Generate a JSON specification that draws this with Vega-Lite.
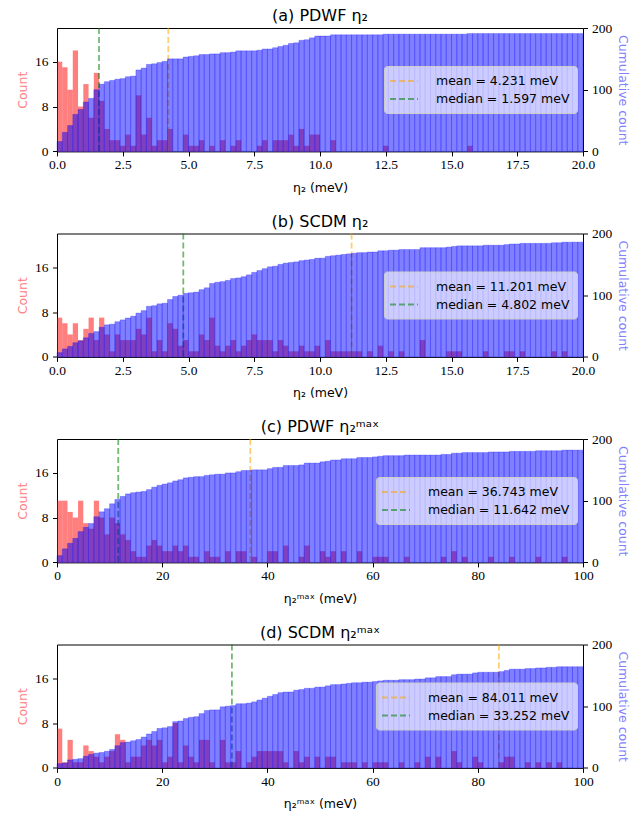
{
"$schema": "https://vega.github.io/schema/vega-lite/v6.json",
"autosize": {"type": "pad"},
"padding": {"left": 16, "top": 7, "right": 0, "bottom": 0},
"background": "white",
"bounds": "flush",
"spacing": 81.5,
"datasets": {
"a": [
{"s":0,"e":0.2,"n":16,"c":16},{"s":0.2,"e":0.4,"n":15,"c":31},{"s":0.4,"e":0.6,"n":11,"c":42},{"s":0.6,"e":0.8,"n":18,"c":60},{"s":0.8,"e":1,"n":8,"c":68},
{"s":1,"e":1.2,"n":12,"c":80},{"s":1.2,"e":1.4,"n":6,"c":86},{"s":1.4,"e":1.6,"n":14,"c":100},{"s":1.6,"e":1.8,"n":9,"c":109},{"s":1.8,"e":2,"n":4,"c":113},
{"s":2,"e":2.2,"n":2,"c":115},{"s":2.2,"e":2.4,"n":2,"c":117},{"s":2.4,"e":2.6,"n":1,"c":118},{"s":2.6,"e":2.8,"n":3,"c":121},{"s":2.8,"e":3,"n":1,"c":122},
{"s":3,"e":3.2,"n":10,"c":132},{"s":3.2,"e":3.4,"n":3,"c":135},{"s":3.4,"e":3.6,"n":6,"c":141},{"s":3.6,"e":3.8,"n":1,"c":142},{"s":3.8,"e":4,"n":2,"c":144},
{"s":4,"e":4.2,"n":2,"c":146},{"s":4.2,"e":4.4,"n":4,"c":150},{"s":4.4,"e":4.6,"n":0,"c":150},{"s":4.6,"e":4.8,"n":0,"c":150},{"s":4.8,"e":5,"n":3,"c":153},
{"s":5,"e":5.2,"n":1,"c":154},{"s":5.2,"e":5.4,"n":1,"c":155},{"s":5.4,"e":5.6,"n":2,"c":157},{"s":5.6,"e":5.8,"n":0,"c":157},{"s":5.8,"e":6,"n":1,"c":158},
{"s":6,"e":6.2,"n":0,"c":158},{"s":6.2,"e":6.4,"n":2,"c":160},{"s":6.4,"e":6.6,"n":0,"c":160},{"s":6.6,"e":6.8,"n":1,"c":161},{"s":6.8,"e":7,"n":2,"c":163},
{"s":7,"e":7.2,"n":0,"c":163},{"s":7.2,"e":7.4,"n":0,"c":163},{"s":7.4,"e":7.6,"n":0,"c":163},{"s":7.6,"e":7.8,"n":1,"c":164},{"s":7.8,"e":8,"n":2,"c":166},
{"s":8,"e":8.2,"n":0,"c":166},{"s":8.2,"e":8.4,"n":2,"c":168},{"s":8.4,"e":8.6,"n":2,"c":170},{"s":8.6,"e":8.8,"n":2,"c":172},{"s":8.8,"e":9,"n":3,"c":175},
{"s":9,"e":9.2,"n":1,"c":176},{"s":9.2,"e":9.4,"n":4,"c":180},{"s":9.4,"e":9.6,"n":1,"c":181},{"s":9.6,"e":9.8,"n":3,"c":184},{"s":9.8,"e":10,"n":3,"c":187},
{"s":10,"e":10.2,"n":0,"c":187},{"s":10.2,"e":10.4,"n":0,"c":187},{"s":10.4,"e":10.6,"n":2,"c":189},{"s":10.6,"e":10.8,"n":0,"c":189},{"s":10.8,"e":11,"n":0,"c":189},
{"s":11,"e":11.2,"n":0,"c":189},{"s":11.2,"e":11.4,"n":0,"c":189},{"s":11.4,"e":11.6,"n":0,"c":189},{"s":11.6,"e":11.8,"n":0,"c":189},{"s":11.8,"e":12,"n":0,"c":189},
{"s":12,"e":12.2,"n":0,"c":189},{"s":12.2,"e":12.4,"n":0,"c":189},{"s":12.4,"e":12.6,"n":1,"c":190},{"s":12.6,"e":12.8,"n":0,"c":190},{"s":12.8,"e":13,"n":0,"c":190},
{"s":13,"e":13.2,"n":0,"c":190},{"s":13.2,"e":13.4,"n":0,"c":190},{"s":13.4,"e":13.6,"n":0,"c":190},{"s":13.6,"e":13.8,"n":0,"c":190},{"s":13.8,"e":14,"n":0,"c":190},
{"s":14,"e":14.2,"n":0,"c":190},{"s":14.2,"e":14.4,"n":0,"c":190},{"s":14.4,"e":14.6,"n":0,"c":190},{"s":14.6,"e":14.8,"n":0,"c":190},{"s":14.8,"e":15,"n":0,"c":190},
{"s":15,"e":15.2,"n":0,"c":190},{"s":15.2,"e":15.4,"n":0,"c":190},{"s":15.4,"e":15.6,"n":0,"c":190},{"s":15.6,"e":15.8,"n":1,"c":191},{"s":15.8,"e":16,"n":0,"c":191},
{"s":16,"e":16.2,"n":0,"c":191},{"s":16.2,"e":16.4,"n":0,"c":191},{"s":16.4,"e":16.6,"n":0,"c":191},{"s":16.6,"e":16.8,"n":0,"c":191},{"s":16.8,"e":17,"n":0,"c":191},
{"s":17,"e":17.2,"n":0,"c":191},{"s":17.2,"e":17.4,"n":0,"c":191},{"s":17.4,"e":17.6,"n":0,"c":191},{"s":17.6,"e":17.8,"n":0,"c":191},{"s":17.8,"e":18,"n":0,"c":191},
{"s":18,"e":18.2,"n":0,"c":191},{"s":18.2,"e":18.4,"n":0,"c":191},{"s":18.4,"e":18.6,"n":0,"c":191},{"s":18.6,"e":18.8,"n":0,"c":191},{"s":18.8,"e":19,"n":0,"c":191},
{"s":19,"e":19.2,"n":0,"c":191},{"s":19.2,"e":19.4,"n":0,"c":191},{"s":19.4,"e":19.6,"n":0,"c":191},{"s":19.6,"e":19.8,"n":0,"c":191},{"s":19.8,"e":20,"n":0,"c":191}
],
"b": [
{"s":0,"e":0.2,"n":7,"c":7},{"s":0.2,"e":0.4,"n":6,"c":13},{"s":0.4,"e":0.6,"n":4,"c":17},{"s":0.6,"e":0.8,"n":6,"c":23},{"s":0.8,"e":1,"n":3,"c":26},
{"s":1,"e":1.2,"n":5,"c":31},{"s":1.2,"e":1.4,"n":7,"c":38},{"s":1.4,"e":1.6,"n":3,"c":41},{"s":1.6,"e":1.8,"n":7,"c":48},{"s":1.8,"e":2,"n":4,"c":52},
{"s":2,"e":2.2,"n":1,"c":53},{"s":2.2,"e":2.4,"n":4,"c":57},{"s":2.4,"e":2.6,"n":3,"c":60},{"s":2.6,"e":2.8,"n":3,"c":63},{"s":2.8,"e":3,"n":3,"c":66},
{"s":3,"e":3.2,"n":5,"c":71},{"s":3.2,"e":3.4,"n":4,"c":75},{"s":3.4,"e":3.6,"n":7,"c":82},{"s":3.6,"e":3.8,"n":1,"c":83},{"s":3.8,"e":4,"n":3,"c":86},
{"s":4,"e":4.2,"n":1,"c":87},{"s":4.2,"e":4.4,"n":6,"c":93},{"s":4.4,"e":4.6,"n":5,"c":98},{"s":4.6,"e":4.8,"n":2,"c":100},{"s":4.8,"e":5,"n":3,"c":103},
{"s":5,"e":5.2,"n":1,"c":104},{"s":5.2,"e":5.4,"n":1,"c":105},{"s":5.4,"e":5.6,"n":4,"c":109},{"s":5.6,"e":5.8,"n":3,"c":112},{"s":5.8,"e":6,"n":7,"c":119},
{"s":6,"e":6.2,"n":2,"c":121},{"s":6.2,"e":6.4,"n":1,"c":122},{"s":6.4,"e":6.6,"n":2,"c":124},{"s":6.6,"e":6.8,"n":3,"c":127},{"s":6.8,"e":7,"n":1,"c":128},
{"s":7,"e":7.2,"n":2,"c":130},{"s":7.2,"e":7.4,"n":3,"c":133},{"s":7.4,"e":7.6,"n":4,"c":137},{"s":7.6,"e":7.8,"n":3,"c":140},{"s":7.8,"e":8,"n":3,"c":143},
{"s":8,"e":8.2,"n":3,"c":146},{"s":8.2,"e":8.4,"n":1,"c":147},{"s":8.4,"e":8.6,"n":3,"c":150},{"s":8.6,"e":8.8,"n":2,"c":152},{"s":8.8,"e":9,"n":1,"c":153},
{"s":9,"e":9.2,"n":1,"c":154},{"s":9.2,"e":9.4,"n":2,"c":156},{"s":9.4,"e":9.6,"n":1,"c":157},{"s":9.6,"e":9.8,"n":1,"c":158},{"s":9.8,"e":10,"n":2,"c":160},
{"s":10,"e":10.2,"n":0,"c":160},{"s":10.2,"e":10.4,"n":3,"c":163},{"s":10.4,"e":10.6,"n":1,"c":164},{"s":10.6,"e":10.8,"n":1,"c":165},{"s":10.8,"e":11,"n":1,"c":166},
{"s":11,"e":11.2,"n":1,"c":167},{"s":11.2,"e":11.4,"n":1,"c":168},{"s":11.4,"e":11.6,"n":1,"c":169},{"s":11.6,"e":11.8,"n":0,"c":169},{"s":11.8,"e":12,"n":1,"c":170},
{"s":12,"e":12.2,"n":0,"c":170},{"s":12.2,"e":12.4,"n":2,"c":172},{"s":12.4,"e":12.6,"n":0,"c":172},{"s":12.6,"e":12.8,"n":1,"c":173},{"s":12.8,"e":13,"n":0,"c":173},
{"s":13,"e":13.2,"n":1,"c":174},{"s":13.2,"e":13.4,"n":0,"c":174},{"s":13.4,"e":13.6,"n":0,"c":174},{"s":13.6,"e":13.8,"n":0,"c":174},{"s":13.8,"e":14,"n":3,"c":177},
{"s":14,"e":14.2,"n":0,"c":177},{"s":14.2,"e":14.4,"n":0,"c":177},{"s":14.4,"e":14.6,"n":0,"c":177},{"s":14.6,"e":14.8,"n":0,"c":177},{"s":14.8,"e":15,"n":1,"c":178},
{"s":15,"e":15.2,"n":1,"c":179},{"s":15.2,"e":15.4,"n":1,"c":180},{"s":15.4,"e":15.6,"n":0,"c":180},{"s":15.6,"e":15.8,"n":0,"c":180},{"s":15.8,"e":16,"n":0,"c":180},
{"s":16,"e":16.2,"n":0,"c":180},{"s":16.2,"e":16.4,"n":1,"c":181},{"s":16.4,"e":16.6,"n":0,"c":181},{"s":16.6,"e":16.8,"n":0,"c":181},{"s":16.8,"e":17,"n":0,"c":181},
{"s":17,"e":17.2,"n":1,"c":182},{"s":17.2,"e":17.4,"n":1,"c":183},{"s":17.4,"e":17.6,"n":0,"c":183},{"s":17.6,"e":17.8,"n":1,"c":184},{"s":17.8,"e":18,"n":0,"c":184},
{"s":18,"e":18.2,"n":0,"c":184},{"s":18.2,"e":18.4,"n":0,"c":184},{"s":18.4,"e":18.6,"n":0,"c":184},{"s":18.6,"e":18.8,"n":0,"c":184},{"s":18.8,"e":19,"n":1,"c":185},
{"s":19,"e":19.2,"n":0,"c":185},{"s":19.2,"e":19.4,"n":1,"c":186},{"s":19.4,"e":19.6,"n":0,"c":186},{"s":19.6,"e":19.8,"n":0,"c":186},{"s":19.8,"e":20,"n":0,"c":186}
],
"c": [
{"s":0,"e":1,"n":11,"c":11},{"s":1,"e":2,"n":11,"c":22},{"s":2,"e":3,"n":9,"c":31},{"s":3,"e":4,"n":8,"c":39},{"s":4,"e":5,"n":11,"c":50},
{"s":5,"e":6,"n":7,"c":57},{"s":6,"e":7,"n":6,"c":63},{"s":7,"e":8,"n":11,"c":74},{"s":8,"e":9,"n":8,"c":82},{"s":9,"e":10,"n":5,"c":87},
{"s":10,"e":11,"n":8,"c":95},{"s":11,"e":12,"n":7,"c":102},{"s":12,"e":13,"n":5,"c":107},{"s":13,"e":14,"n":4,"c":111},{"s":14,"e":15,"n":2,"c":113},
{"s":15,"e":16,"n":1,"c":114},{"s":16,"e":17,"n":1,"c":115},{"s":17,"e":18,"n":3,"c":118},{"s":18,"e":19,"n":4,"c":122},{"s":19,"e":20,"n":3,"c":125},
{"s":20,"e":21,"n":2,"c":127},{"s":21,"e":22,"n":2,"c":129},{"s":22,"e":23,"n":3,"c":132},{"s":23,"e":24,"n":2,"c":134},{"s":24,"e":25,"n":3,"c":137},
{"s":25,"e":26,"n":1,"c":138},{"s":26,"e":27,"n":1,"c":139},{"s":27,"e":28,"n":0,"c":139},{"s":28,"e":29,"n":2,"c":141},{"s":29,"e":30,"n":1,"c":142},
{"s":30,"e":31,"n":1,"c":143},{"s":31,"e":32,"n":0,"c":143},{"s":32,"e":33,"n":2,"c":145},{"s":33,"e":34,"n":0,"c":145},{"s":34,"e":35,"n":2,"c":147},
{"s":35,"e":36,"n":2,"c":149},{"s":36,"e":37,"n":0,"c":149},{"s":37,"e":38,"n":1,"c":150},{"s":38,"e":39,"n":0,"c":150},{"s":39,"e":40,"n":0,"c":150},
{"s":40,"e":41,"n":2,"c":152},{"s":41,"e":42,"n":2,"c":154},{"s":42,"e":43,"n":0,"c":154},{"s":43,"e":44,"n":3,"c":157},{"s":44,"e":45,"n":0,"c":157},
{"s":45,"e":46,"n":0,"c":157},{"s":46,"e":47,"n":1,"c":158},{"s":47,"e":48,"n":3,"c":161},{"s":48,"e":49,"n":0,"c":161},{"s":49,"e":50,"n":0,"c":161},
{"s":50,"e":51,"n":2,"c":163},{"s":51,"e":52,"n":1,"c":164},{"s":52,"e":53,"n":2,"c":166},{"s":53,"e":54,"n":0,"c":166},{"s":54,"e":55,"n":2,"c":168},
{"s":55,"e":56,"n":0,"c":168},{"s":56,"e":57,"n":0,"c":168},{"s":57,"e":58,"n":2,"c":170},{"s":58,"e":59,"n":0,"c":170},{"s":59,"e":60,"n":0,"c":170},
{"s":60,"e":61,"n":1,"c":171},{"s":61,"e":62,"n":1,"c":172},{"s":62,"e":63,"n":1,"c":173},{"s":63,"e":64,"n":0,"c":173},{"s":64,"e":65,"n":0,"c":173},
{"s":65,"e":66,"n":0,"c":173},{"s":66,"e":67,"n":1,"c":174},{"s":67,"e":68,"n":0,"c":174},{"s":68,"e":69,"n":0,"c":174},{"s":69,"e":70,"n":0,"c":174},
{"s":70,"e":71,"n":0,"c":174},{"s":71,"e":72,"n":0,"c":174},{"s":72,"e":73,"n":0,"c":174},{"s":73,"e":74,"n":1,"c":175},{"s":74,"e":75,"n":0,"c":175},
{"s":75,"e":76,"n":2,"c":177},{"s":76,"e":77,"n":0,"c":177},{"s":77,"e":78,"n":1,"c":178},{"s":78,"e":79,"n":0,"c":178},{"s":79,"e":80,"n":0,"c":178},
{"s":80,"e":81,"n":0,"c":178},{"s":81,"e":82,"n":0,"c":178},{"s":82,"e":83,"n":1,"c":179},{"s":83,"e":84,"n":0,"c":179},{"s":84,"e":85,"n":0,"c":179},
{"s":85,"e":86,"n":0,"c":179},{"s":86,"e":87,"n":1,"c":180},{"s":87,"e":88,"n":0,"c":180},{"s":88,"e":89,"n":0,"c":180},{"s":89,"e":90,"n":0,"c":180},
{"s":90,"e":91,"n":0,"c":180},{"s":91,"e":92,"n":1,"c":181},{"s":92,"e":93,"n":0,"c":181},{"s":93,"e":94,"n":0,"c":181},{"s":94,"e":95,"n":0,"c":181},
{"s":95,"e":96,"n":0,"c":181},{"s":96,"e":97,"n":1,"c":182},{"s":97,"e":98,"n":0,"c":182},{"s":98,"e":99,"n":0,"c":182},{"s":99,"e":100,"n":0,"c":182}
],
"d": [
{"s":0,"e":1,"n":7,"c":7},{"s":1,"e":2,"n":1,"c":8},{"s":2,"e":3,"n":5,"c":13},{"s":3,"e":4,"n":1,"c":14},{"s":4,"e":5,"n":1,"c":15},
{"s":5,"e":6,"n":4,"c":19},{"s":6,"e":7,"n":3,"c":22},{"s":7,"e":8,"n":2,"c":24},{"s":8,"e":9,"n":1,"c":25},{"s":9,"e":10,"n":2,"c":27},
{"s":10,"e":11,"n":3,"c":30},{"s":11,"e":12,"n":6,"c":36},{"s":12,"e":13,"n":5,"c":41},{"s":13,"e":14,"n":1,"c":42},{"s":14,"e":15,"n":2,"c":44},
{"s":15,"e":16,"n":2,"c":46},{"s":16,"e":17,"n":4,"c":50},{"s":17,"e":18,"n":5,"c":55},{"s":18,"e":19,"n":4,"c":59},{"s":19,"e":20,"n":5,"c":64},
{"s":20,"e":21,"n":1,"c":65},{"s":21,"e":22,"n":2,"c":67},{"s":22,"e":23,"n":8,"c":75},{"s":23,"e":24,"n":1,"c":76},{"s":24,"e":25,"n":4,"c":80},
{"s":25,"e":26,"n":2,"c":82},{"s":26,"e":27,"n":1,"c":83},{"s":27,"e":28,"n":5,"c":88},{"s":28,"e":29,"n":5,"c":93},{"s":29,"e":30,"n":1,"c":94},
{"s":30,"e":31,"n":0,"c":94},{"s":31,"e":32,"n":5,"c":99},{"s":32,"e":33,"n":1,"c":100},{"s":33,"e":34,"n":1,"c":101},{"s":34,"e":35,"n":3,"c":104},
{"s":35,"e":36,"n":0,"c":104},{"s":36,"e":37,"n":1,"c":105},{"s":37,"e":38,"n":2,"c":107},{"s":38,"e":39,"n":3,"c":110},{"s":39,"e":40,"n":3,"c":113},
{"s":40,"e":41,"n":3,"c":116},{"s":41,"e":42,"n":3,"c":119},{"s":42,"e":43,"n":3,"c":122},{"s":43,"e":44,"n":1,"c":123},{"s":44,"e":45,"n":0,"c":123},
{"s":45,"e":46,"n":3,"c":126},{"s":46,"e":47,"n":1,"c":127},{"s":47,"e":48,"n":2,"c":129},{"s":48,"e":49,"n":0,"c":129},{"s":49,"e":50,"n":2,"c":131},
{"s":50,"e":51,"n":0,"c":131},{"s":51,"e":52,"n":2,"c":133},{"s":52,"e":53,"n":2,"c":135},{"s":53,"e":54,"n":0,"c":135},{"s":54,"e":55,"n":1,"c":136},
{"s":55,"e":56,"n":1,"c":137},{"s":56,"e":57,"n":1,"c":138},{"s":57,"e":58,"n":0,"c":138},{"s":58,"e":59,"n":1,"c":139},{"s":59,"e":60,"n":0,"c":139},
{"s":60,"e":61,"n":1,"c":140},{"s":61,"e":62,"n":1,"c":141},{"s":62,"e":63,"n":1,"c":142},{"s":63,"e":64,"n":0,"c":142},{"s":64,"e":65,"n":0,"c":142},
{"s":65,"e":66,"n":1,"c":143},{"s":66,"e":67,"n":0,"c":143},{"s":67,"e":68,"n":0,"c":143},{"s":68,"e":69,"n":1,"c":144},{"s":69,"e":70,"n":0,"c":144},
{"s":70,"e":71,"n":2,"c":146},{"s":71,"e":72,"n":0,"c":146},{"s":72,"e":73,"n":2,"c":148},{"s":73,"e":74,"n":0,"c":148},{"s":74,"e":75,"n":0,"c":148},
{"s":75,"e":76,"n":3,"c":151},{"s":76,"e":77,"n":1,"c":152},{"s":77,"e":78,"n":0,"c":152},{"s":78,"e":79,"n":0,"c":152},{"s":79,"e":80,"n":2,"c":154},
{"s":80,"e":81,"n":1,"c":155},{"s":81,"e":82,"n":0,"c":155},{"s":82,"e":83,"n":0,"c":155},{"s":83,"e":84,"n":0,"c":155},{"s":84,"e":85,"n":1,"c":156},
{"s":85,"e":86,"n":2,"c":158},{"s":86,"e":87,"n":2,"c":160},{"s":87,"e":88,"n":0,"c":160},{"s":88,"e":89,"n":0,"c":160},{"s":89,"e":90,"n":1,"c":161},
{"s":90,"e":91,"n":0,"c":161},{"s":91,"e":92,"n":1,"c":162},{"s":92,"e":93,"n":0,"c":162},{"s":93,"e":94,"n":1,"c":163},{"s":94,"e":95,"n":0,"c":163},
{"s":95,"e":96,"n":1,"c":164},{"s":96,"e":97,"n":0,"c":164},{"s":97,"e":98,"n":0,"c":164},{"s":98,"e":99,"n":0,"c":164},{"s":99,"e":100,"n":0,"c":164}
]
},
"vconcat": [
{
"width": 526, "height": 123.4,
"title": {"text": "(a) PDWF η₂"},
"data": {"name": "a"},
"layer": [
{"mark": {"type": "bar", "fill": "#ff0000", "fillOpacity": 0.5},
"encoding": {
"x": {"field": "s", "type": "quantitative", "title": "η₂ (meV)", "scale": {"domain": [0, 20], "nice": false, "zero": false}, "axis": {"values": [0, 2.5, 5, 7.5, 10, 12.5, 15, 17.5, 20], "format": ".1f"}},
"x2": {"field": "e"},
"y": {"field": "n", "type": "quantitative", "stack": null, "scale": {"domain": [0, 22], "nice": false}, "axis": {"orient": "left", "values": [0, 8, 16], "title": "Count", "titleColor": "#ff8080"}},
"y2": {"datum": 0}
}},
{"data": {"values": [{"v": 4.231, "k": "mean = 4.231 meV"}, {"v": 1.597, "k": "median = 1.597 meV"}]},
"mark": {"type": "rule", "strokeDash": [6, 3], "strokeWidth": 1.8, "opacity": 0.55},
"encoding": {
"x": {"field": "v", "type": "quantitative", "title": "η₂ (meV)"},
"color": {"field": "k", "type": "nominal", "scale": {"domain": ["mean = 4.231 meV", "median = 1.597 meV"], "range": ["#ffa500", "#008000"]}, "legend": {"title": null, "legendX": 327}}
}},
{"mark": {"type": "bar", "fill": "#0000ff", "fillOpacity": 0.5, "stroke": "#0000ff", "strokeWidth": 0.7, "strokeOpacity": 0.35},
"encoding": {
"x": {"field": "s", "type": "quantitative", "title": "η₂ (meV)"},
"x2": {"field": "e"},
"y": {"field": "c", "type": "quantitative", "stack": null, "scale": {"domain": [0, 200], "nice": false}, "axis": {"orient": "right", "values": [0, 100, 200], "title": "Cumulative count", "titleColor": "#8080ff"}},
"y2": {"datum": 0}
}}
],
"resolve": {"scale": {"y": "independent"}}
},
{
"width": 526, "height": 123.4,
"title": {"text": "(b) SCDM η₂"},
"data": {"name": "b"},
"layer": [
{"mark": {"type": "bar", "fill": "#ff0000", "fillOpacity": 0.5},
"encoding": {
"x": {"field": "s", "type": "quantitative", "title": "η₂ (meV)", "scale": {"domain": [0, 20], "nice": false, "zero": false}, "axis": {"values": [0, 2.5, 5, 7.5, 10, 12.5, 15, 17.5, 20], "format": ".1f"}},
"x2": {"field": "e"},
"y": {"field": "n", "type": "quantitative", "stack": null, "scale": {"domain": [0, 22], "nice": false}, "axis": {"orient": "left", "values": [0, 8, 16], "title": "Count", "titleColor": "#ff8080"}},
"y2": {"datum": 0}
}},
{"data": {"values": [{"v": 11.201, "k": "mean = 11.201 meV"}, {"v": 4.802, "k": "median = 4.802 meV"}]},
"mark": {"type": "rule", "strokeDash": [6, 3], "strokeWidth": 1.8, "opacity": 0.55},
"encoding": {
"x": {"field": "v", "type": "quantitative", "title": "η₂ (meV)"},
"color": {"field": "k", "type": "nominal", "scale": {"domain": ["mean = 11.201 meV", "median = 4.802 meV"], "range": ["#ffa500", "#008000"]}, "legend": {"title": null, "legendX": 327}}
}},
{"mark": {"type": "bar", "fill": "#0000ff", "fillOpacity": 0.5, "stroke": "#0000ff", "strokeWidth": 0.7, "strokeOpacity": 0.35},
"encoding": {
"x": {"field": "s", "type": "quantitative", "title": "η₂ (meV)"},
"x2": {"field": "e"},
"y": {"field": "c", "type": "quantitative", "stack": null, "scale": {"domain": [0, 200], "nice": false}, "axis": {"orient": "right", "values": [0, 100, 200], "title": "Cumulative count", "titleColor": "#8080ff"}},
"y2": {"datum": 0}
}}
],
"resolve": {"scale": {"y": "independent"}}
},
{
"width": 526, "height": 123.4,
"title": {"text": "(c) PDWF η₂ᵐᵃˣ"},
"data": {"name": "c"},
"layer": [
{"mark": {"type": "bar", "fill": "#ff0000", "fillOpacity": 0.5},
"encoding": {
"x": {"field": "s", "type": "quantitative", "title": "η₂ᵐᵃˣ (meV)", "scale": {"domain": [0, 100], "nice": false, "zero": false}, "axis": {"values": [0, 20, 40, 60, 80, 100], "format": "d"}},
"x2": {"field": "e"},
"y": {"field": "n", "type": "quantitative", "stack": null, "scale": {"domain": [0, 22], "nice": false}, "axis": {"orient": "left", "values": [0, 8, 16], "title": "Count", "titleColor": "#ff8080"}},
"y2": {"datum": 0}
}},
{"data": {"values": [{"v": 36.743, "k": "mean = 36.743 meV"}, {"v": 11.642, "k": "median = 11.642 meV"}]},
"mark": {"type": "rule", "strokeDash": [6, 3], "strokeWidth": 1.8, "opacity": 0.55},
"encoding": {
"x": {"field": "v", "type": "quantitative", "title": "η₂ᵐᵃˣ (meV)"},
"color": {"field": "k", "type": "nominal", "scale": {"domain": ["mean = 36.743 meV", "median = 11.642 meV"], "range": ["#ffa500", "#008000"]}, "legend": {"title": null, "legendX": 319}}
}},
{"mark": {"type": "bar", "fill": "#0000ff", "fillOpacity": 0.5, "stroke": "#0000ff", "strokeWidth": 0.7, "strokeOpacity": 0.35},
"encoding": {
"x": {"field": "s", "type": "quantitative", "title": "η₂ᵐᵃˣ (meV)"},
"x2": {"field": "e"},
"y": {"field": "c", "type": "quantitative", "stack": null, "scale": {"domain": [0, 200], "nice": false}, "axis": {"orient": "right", "values": [0, 100, 200], "title": "Cumulative count", "titleColor": "#8080ff"}},
"y2": {"datum": 0}
}}
],
"resolve": {"scale": {"y": "independent"}}
},
{
"width": 526, "height": 123.4,
"title": {"text": "(d) SCDM η₂ᵐᵃˣ"},
"data": {"name": "d"},
"layer": [
{"mark": {"type": "bar", "fill": "#ff0000", "fillOpacity": 0.5},
"encoding": {
"x": {"field": "s", "type": "quantitative", "title": "η₂ᵐᵃˣ (meV)", "scale": {"domain": [0, 100], "nice": false, "zero": false}, "axis": {"values": [0, 20, 40, 60, 80, 100], "format": "d"}},
"x2": {"field": "e"},
"y": {"field": "n", "type": "quantitative", "stack": null, "scale": {"domain": [0, 22], "nice": false}, "axis": {"orient": "left", "values": [0, 8, 16], "title": "Count", "titleColor": "#ff8080"}},
"y2": {"datum": 0}
}},
{"data": {"values": [{"v": 84.011, "k": "mean = 84.011 meV"}, {"v": 33.252, "k": "median = 33.252 meV"}]},
"mark": {"type": "rule", "strokeDash": [6, 3], "strokeWidth": 1.8, "opacity": 0.55},
"encoding": {
"x": {"field": "v", "type": "quantitative", "title": "η₂ᵐᵃˣ (meV)"},
"color": {"field": "k", "type": "nominal", "scale": {"domain": ["mean = 84.011 meV", "median = 33.252 meV"], "range": ["#ffa500", "#008000"]}, "legend": {"title": null, "legendX": 319}}
}},
{"mark": {"type": "bar", "fill": "#0000ff", "fillOpacity": 0.5, "stroke": "#0000ff", "strokeWidth": 0.7, "strokeOpacity": 0.35},
"encoding": {
"x": {"field": "s", "type": "quantitative", "title": "η₂ᵐᵃˣ (meV)"},
"x2": {"field": "e"},
"y": {"field": "c", "type": "quantitative", "stack": null, "scale": {"domain": [0, 200], "nice": false}, "axis": {"orient": "right", "values": [0, 100, 200], "title": "Cumulative count", "titleColor": "#8080ff"}},
"y2": {"datum": 0}
}}
],
"resolve": {"scale": {"y": "independent"}}
}
],
"resolve": {"scale": {"x": "independent", "y": "independent", "color": "independent"}, "legend": {"color": "independent"}},
"config": {
"view": {"stroke": "#000000", "strokeWidth": 1},
"axis": {"domain": false, "grid": false, "tickColor": "#000000", "tickSize": 4.5, "tickWidth": 1, "labelFont": "Liberation Serif", "labelFontSize": 13.5, "labelColor": "#000000", "titleFont": "DejaVu Sans", "titleFontSize": 12.5, "titleFontWeight": "normal", "titleColor": "#000000"},
"axisX": {"labelPadding": 2, "titlePadding": 10, "labelFlush": false},
"axisLeft": {"labelPadding": 4.5, "titlePadding": 5},
"axisRight": {"labelPadding": 4, "titlePadding": 4},
"title": {"font": "DejaVu Sans", "fontSize": 16, "fontWeight": "normal", "color": "#000000", "offset": -3},
"legend": {"orient": "none", "legendY": 38, "symbolType": "M-2,0H2", "symbolSize": 196, "symbolStrokeWidth": 1.8, "symbolDash": [6, 3], "symbolOpacity": 0.55, "symbolOffset": 5, "labelOffset": 24, "padding": 7, "rowPadding": 3, "fillColor": "rgba(255,255,255,0.6)", "strokeColor": "#cccccc", "cornerRadius": 3, "labelFont": "DejaVu Sans", "labelFontSize": 12.5, "labelColor": "#000000", "labelLimit": 400}
}
}
